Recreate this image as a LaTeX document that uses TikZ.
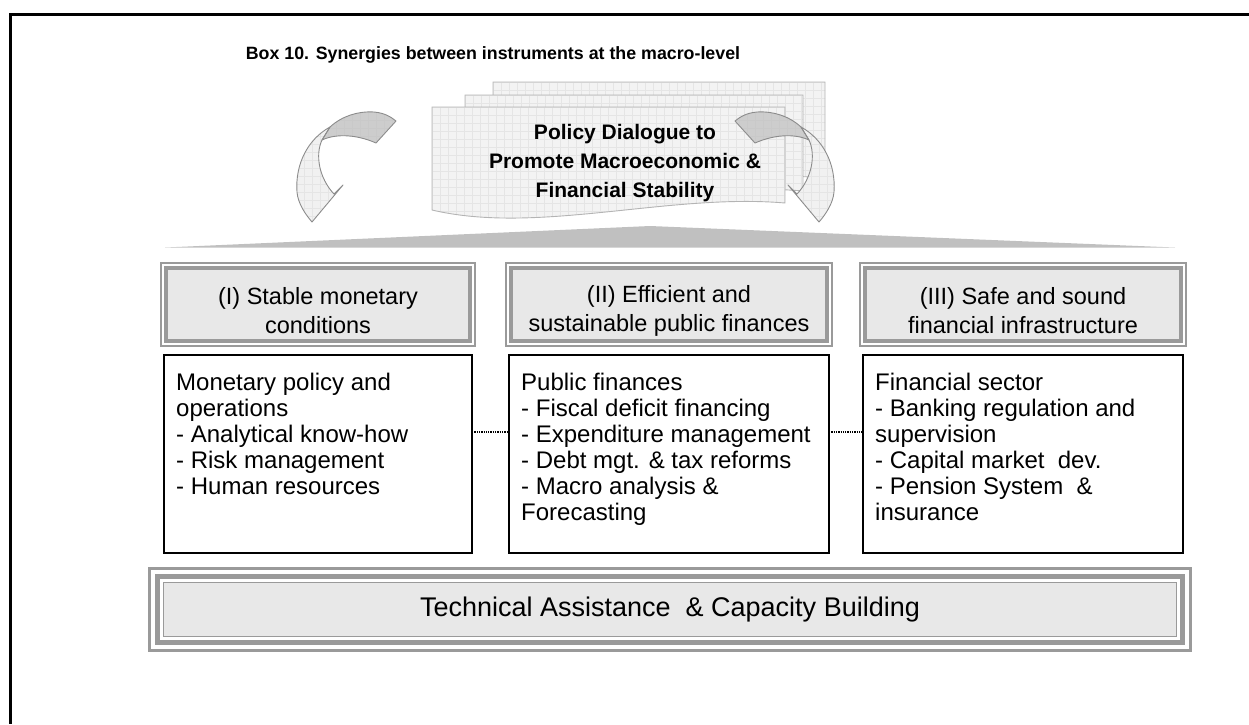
\documentclass[tikz,border=0pt]{standalone}
\usepackage{fontspec}
\setmainfont{Liberation Sans}

\definecolor{framegray}{HTML}{9A9A9A}
\definecolor{boxfill}{HTML}{E8E8E8}
\definecolor{wedgegray}{HTML}{C0C0C0}
\definecolor{sheetfill}{HTML}{F3F3F3}
\definecolor{sheetgrid}{HTML}{E5E5E5}
\definecolor{sheetedge}{HTML}{B4B4B4}
\definecolor{ribbonlight}{HTML}{F1F1F1}
\definecolor{ribbondark}{HTML}{CDCDCD}
\definecolor{ribbonedge}{HTML}{8C8C8C}

\newcommand\titlefont{\fontsize{17.8}{21}\selectfont\bfseries}
\newcommand\sheetfont{\fontsize{21}{29}\selectfont\bfseries}
\newcommand\hdrfont{\fontsize{23.5}{29}\selectfont}
\newcommand\bodyfont{\fontsize{24}{26}\selectfont}
\newcommand\tafont{\fontsize{27}{32}\selectfont}

% one page of the stacked documents, local origin at its top left corner, #1 = width
\newcommand\sheetpath[1]{(0,0) -- (#1,0) -- (#1,96) .. controls ({0.67*#1},86) and ({0.3*#1},128) .. (0,103) -- cycle}
\newcommand\drawsheet[3]{%
  \begin{scope}[shift={(#1,#2)}]
    \fill[sheetfill] \sheetpath{#3};
    \begin{scope}
      \clip \sheetpath{#3};
      \foreach \gx in {0,8,...,360} \draw[sheetgrid, line width=0.5pt] (\gx,0) -- (\gx,140);
      \foreach \gy in {0,8,...,136} \draw[sheetgrid, line width=0.5pt] (0,\gy) -- (360,\gy);
    \end{scope}
    \draw[sheetedge, line width=0.9pt] \sheetpath{#3};
  \end{scope}}

% curved ribbon arrow: light descending shaft and darker top band
\newcommand\shaftpath{(330,127) .. controls (308,139) and (295,164) .. (297,192)
  .. controls (298,204) and (306,215) .. (312,222) -- (343,185) -- (334,194)
  .. controls (319,178) and (315,155) .. (322,140) -- cycle}
\newcommand\bandpath{(330,127) .. controls (342,116) and (358,111) .. (374,112)
  .. controls (385,113) and (391,117) .. (396,121) -- (376,143)
  .. controls (358,135) and (337,133) .. (322,140) -- cycle}
\newcommand\drawribbon{%
  \fill[ribbonlight] \shaftpath;
  \begin{scope}\clip \shaftpath;
    \foreach \gx in {288,296,...,400} \draw[sheetgrid, line width=0.5pt] (\gx,104) -- (\gx,230);
    \foreach \gy in {104,112,...,230} \draw[sheetgrid, line width=0.5pt] (288,\gy) -- (400,\gy);
  \end{scope}
  \fill[ribbondark] \bandpath;
  \begin{scope}\clip \bandpath;
    \foreach \gx in {288,296,...,400} \draw[gray!42, line width=0.5pt] (\gx,104) -- (\gx,230);
    \foreach \gy in {104,112,...,230} \draw[gray!42, line width=0.5pt] (288,\gy) -- (400,\gy);
  \end{scope}
  \draw[ribbonedge, line width=0.9pt, line join=round] \shaftpath;
  \draw[ribbonedge, line width=0.9pt, line join=round] \bandpath;}

\begin{document}
\begin{tikzpicture}[x=1pt, y=-1pt,
  hdrbox/.style={draw=framegray, line width=3.5pt, fill=boxfill, outer sep=0pt,
    inner sep=0pt, minimum height=73},
  hdrouter/.style={draw=framegray, line width=1.8pt},
  hdrtext/.style={align=center, font=\hdrfont, inner sep=0pt},
  bodybox/.style={draw=black, line width=1.5pt, fill=white, outer sep=0pt,
    minimum height=198},
  bodytext/.style={anchor=north west, inner sep=0pt, align=left, font=\bodyfont},
  link/.style={draw=black, line width=1.3pt, densely dotted},
  tabox/.style={draw=framegray, line width=1.5pt, fill=boxfill, outer sep=0pt,
    inner sep=0pt, font=\tafont, minimum width=1013, minimum height=54}]

\useasboundingbox (0,0) rectangle (1249,724);

% outer frame (open to the right and bottom)
\draw[line width=3pt] (1249,14) -- (10,14) -- (10,724);

% heading
\node[font=\titlefont, anchor=base, inner sep=0pt] (title) at (493,59)
  {Box 10. Synergies between instruments at the macro-level};

% flat wedge under the policy dialogue
\fill[wedgegray] (165,247.5) -- (650,226) -- (1175,247.5) -- cycle;

% stacked documents
\drawsheet{493}{82}{332}
\drawsheet{465}{95}{338}
\drawsheet{432}{107}{353}
\node[font=\sheetfont, align=center, inner sep=0pt] (dialogue) at (625,163)
  {Policy Dialogue to\\Promote Macroeconomic \&\\Financial Stability};

% curved arrows on both sides
\begin{scope}
  \drawribbon
\end{scope}
\begin{scope}[shift={(1131,0)}, xscale=-1]
  \drawribbon
\end{scope}

% three pillars: headers
\node[hdrbox, minimum width=304] (h1) at (318,304.5) {};
\node[hdrbox, minimum width=316] (h2) at (669,304.5) {};
\node[hdrbox, minimum width=316] (h3) at (1023,304.5) {};
\foreach \h in {h1,h2,h3}
  \draw[hdrouter] ([shift={(-5,-5)}]\h.north west) rectangle ([shift={(5,5)}]\h.south east);
\node[hdrtext] (h1t) at ([shift={(0,6)}]h1.center) {(I) Stable monetary\\conditions};
\node[hdrtext] (h2t) at ([shift={(0,6)}]h2.center) {(II) Efficient and\\sustainable public finances};
\node[hdrtext] (h3t) at ([shift={(0,6)}]h3.center) {(III) Safe and sound\\financial infrastructure};

% three pillars: contents
\node[bodybox, minimum width=308] (b1) at (318,454) {};
\node[bodybox, minimum width=320] (b2) at (669,454) {};
\node[bodybox, minimum width=320] (b3) at (1023,454) {};

\node[bodytext] (t1) at ([shift={(12,18)}]b1.north west)
  {Monetary policy and\\operations\\- Analytical know-how\\- Risk management\\- Human resources};
\node[bodytext] (t2) at ([shift={(12,18)}]b2.north west)
  {Public finances\\- Fiscal deficit financing\\- Expenditure management\\- Debt mgt. \& tax reforms\\- Macro analysis \&\\Forecasting};
\node[bodytext] (t3) at ([shift={(12,18)}]b3.north west)
  {Financial sector\\- Banking regulation and\\supervision\\- Capital market\ \ dev.\\- Pension System\ \ \&\\insurance};

\draw[link] ([shift={(0,-22)}]b1.east) -- ([shift={(0,-22)}]b2.west);
\draw[link] ([shift={(0,-22)}]b2.east) -- ([shift={(0,-22)}]b3.west);

% base: technical assistance
\node[tabox] (tacb) at (670,609.5) {Technical Assistance\ \ \& Capacity Building};
\draw[draw=framegray, line width=5pt] ([shift={(-6,-6)}]tacb.north west) rectangle ([shift={(6,6)}]tacb.south east);
\draw[draw=framegray, line width=3pt] ([shift={(-14,-14)}]tacb.north west) rectangle ([shift={(14,14)}]tacb.south east);
\end{tikzpicture}
\end{document}
